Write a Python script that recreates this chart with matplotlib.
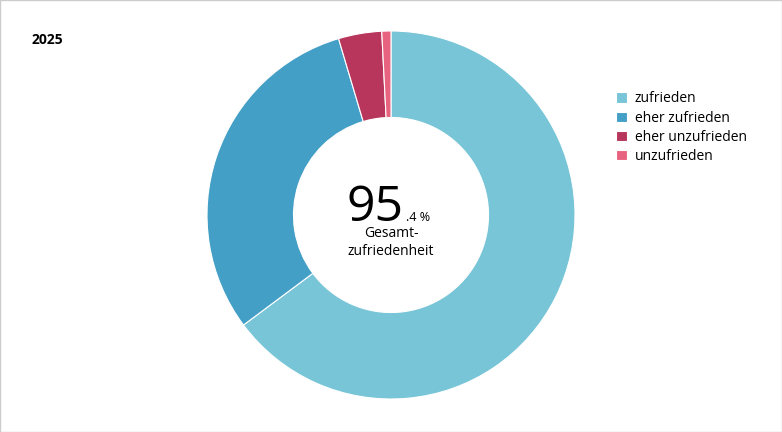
import matplotlib.pyplot as plt

labels = ["zufrieden", "eher zufrieden", "eher unzufrieden", "unzufrieden"]
values = [64.8, 30.6, 3.8, 0.8]
colors = ["#78c5d8", "#449fc6", "#b8365c", "#e8637f"]
year = "2025"
total_int = "95"
total_dec = ".4 %"

fig = plt.figure(figsize=(7.82, 4.32), dpi=100)
fig.patches.append(plt.Rectangle((0, 0), 1, 1, transform=fig.transFigure,
                                 fill=False, edgecolor="#cccccc", lw=1))
R = 184
ax = fig.add_axes([(391 - R)/782, 1 - (215 + R)/432, 2*R/782, 2*R/432])
wedges, _ = ax.pie(values, colors=colors, startangle=90, counterclock=False,
                   wedgeprops=dict(width=0.47, edgecolor="white", linewidth=0.8))
ax.set_xlim(-1, 1); ax.set_ylim(-1, 1)
ax.set_aspect("equal")
ax.text(0.07, -0.03, total_int, ha="right", va="baseline", fontsize=36, family="Open Sans")
ax.text(0.08, -0.03, total_dec, ha="left", va="baseline", fontsize=9, family="Open Sans")
ax.text(0, -0.15, "Gesamt-\nzufriedenheit", ha="center", va="center", fontsize=10,
        family="Open Sans", linespacing=1.3)
fig.text(32/782, 1 - 40/432, year, fontsize=10, fontweight="bold", va="center", family="Open Sans")
fig.legend(wedges, labels, loc="upper left", bbox_to_anchor=(603/782, 1 - 79/432),
           frameon=False, handlelength=0.8, handleheight=0.8,
           handletextpad=0.6, labelspacing=0.3, prop={"family": "Open Sans", "size": 10})
fig.savefig("out.png", dpi=100)
